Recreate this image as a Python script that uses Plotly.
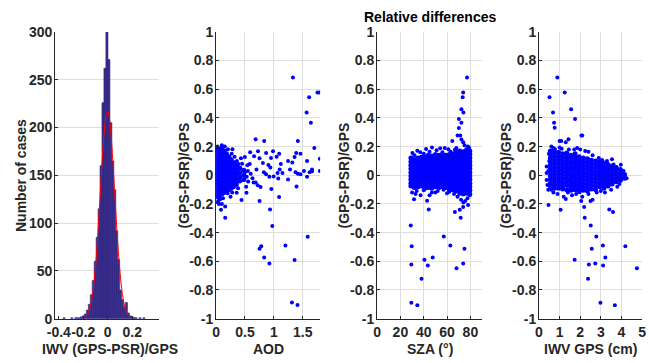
import plotly.graph_objects as go

# ---------------- data ----------------
# Panel 1: histogram of relative IWV differences
hist_centers = [-0.3570, -0.2934, -0.2616, -0.2457, -0.2293, -0.2134, -0.1975, -0.1816, -0.1657,
                -0.1498, -0.1339, -0.1180, -0.1021, -0.0862, -0.0703, -0.0544, -0.0385, -0.0226,
                -0.0067, 0.0092, 0.0251, 0.0410, 0.0569, 0.0728, 0.0887, 0.1046, 0.1205, 0.1364,
                0.1523, 0.1682, 0.1841, 0.2000, 0.2159, 0.2318, 0.2636, 0.2954]
hist_counts = [1, 1, 1, 1, 1, 2, 3, 5, 9,
               15, 25, 40, 60, 85, 115, 160, 226, 262,
               300, 271, 205, 165, 135, 92, 62, 30, 20, 12,
               17, 6, 3, 2, 1, 1, 1, 1]
hist_bin_width = 0.0159

# fitted normal curve
fit_x = [-0.20, -0.18, -0.16, -0.14, -0.12, -0.10, -0.08, -0.06, -0.04, -0.02, -0.01, 0.0,
         0.01, 0.02, 0.04, 0.06, 0.08, 0.10, 0.12, 0.14, 0.16, 0.18, 0.20]
fit_y = [0.8, 2.3, 6.0, 14.1, 29.4, 54.6, 90.6, 133.9, 176.4, 207.2, 215.0, 216.9,
         212.6, 202.4, 168.4, 124.9, 82.6, 48.7, 25.6, 12.0, 5.0, 1.9, 0.6]

# Panel 2: relative difference vs AOD -- dense core (per column) + scattered points
aod_core_x = [0.02, 0.06, 0.10, 0.14, 0.18, 0.22, 0.26, 0.30, 0.35, 0.41, 0.48]
aod_core_y = [
    [0.19, 0.165, 0.14, 0.11, 0.085, 0.06, 0.03, 0.005, -0.02, -0.045, -0.07, -0.1, -0.125, -0.15],
    [0.18, 0.155, 0.125, 0.1, 0.07, 0.045, 0.02, -0.01, -0.035, -0.06, -0.09, -0.115, -0.14, -0.165],
    [0.19, 0.16, 0.135, 0.11, 0.08, 0.055, 0.03, 0.0, -0.025, -0.05, -0.08, -0.105, -0.13],
    [0.17, 0.145, 0.115, 0.09, 0.065, 0.035, 0.01, -0.015, -0.04, -0.07, -0.095, -0.12],
    [0.15, 0.125, 0.1, 0.07, 0.045, 0.02, -0.01, -0.035, -0.06, -0.085, -0.11],
    [0.13, 0.1, 0.075, 0.05, 0.02, -0.005, -0.03, -0.055, -0.08, -0.1],
    [0.11, 0.085, 0.06, 0.03, 0.005, -0.02, -0.045, -0.07, -0.09],
    [0.09, 0.065, 0.04, 0.015, -0.01, -0.035, -0.06, -0.08],
    [0.07, 0.04, 0.015, -0.01, -0.04, -0.065],
    [0.05, 0.02, -0.01, -0.04],
    [0.035, 0.0, -0.03],
]
aod_x = [1.33, 1.61, 1.754, 1.788, 1.567, 1.64, 0.684, 0.832, 1.415, 1.70, 1.795, 1.795,
         0.752, 0.956, 1.09, 0.934, 0.973, 1.585, 0.781, 0.752, 1.20, 0.832, 1.358, 0.922,
         1.312, 1.409, 0.158, 0.085, 0.158, 0.44,
         0.583, 0.657, 0.725, 0.752, 0.81, 0.826, 0.866, 0.905, 0.939, 0.866, 0.922, 0.996,
         1.047, 1.092, 1.12, 1.064, 1.149, 1.075, 1.245, 1.279, 1.319, 1.358, 1.387, 1.46,
         1.375, 1.415, 1.46, 1.392, 1.574, 1.574, 1.618, 1.659, 0.684, 0.77, 0.555, 0.6,
         0.498, 0.458, 0.526, 0.65, 0.498, 0.283, 0.204, 0.385, 0.43, 0.357, 0.28, 0.2,
         0.985, 1.245, 1.52, 1.66, 1.1, 0.7, 0.63, 0.72, 0.54, 0.95, 0.59,
         0.02, 0.05, 0.03, 0.12, 0.1, 0.25, 0.32, 0.36, 0.27, 0.45, 0.52, 0.38, 0.15, 0.1,
         0.55, 0.53]
aod_y = [0.682, 0.545, 0.578, 0.578, 0.438, 0.367, 0.251, 0.24, 0.24, 0.191, 0.115, 0.03,
         -0.18, -0.096, -0.151, -0.238, -0.353, -0.429, -0.495, -0.513, -0.489, -0.573, -0.591, -0.615,
         -0.887, -0.905, -0.296, -0.24, -0.218, -0.173,
         0.078, 0.133, 0.167, 0.118, 0.085, 0.022, 0.156, 0.071, 0.055, 0.007, -0.011, -0.009,
         0.129, 0.151, 0.078, 0.016, 0.016, -0.022, -0.029, 0.04, 0.089, 0.127, 0.156, 0.151,
         0.022, 0.011, 0.007, -0.078, 0.1, -0.011, 0.022, 0.029, -0.051, -0.082, -0.044, 0.011,
         0.022, -0.033, -0.122, -0.05, 0.127, 0.182, 0.182, 0.078, 0.118, -0.122, -0.12, -0.125,
         0.167, 0.1, 0.03, 0.04, 0.04, 0.04, -0.02, -0.07, 0.07, 0.12, 0.16,
         0.2, -0.2, -0.185, -0.16, -0.2, -0.15, 0.13, 0.1, 0.15, 0.08, -0.08, -0.09, 0.2, 0.21,
         0.03, -0.01]

# Panel 3: relative difference vs SZA
sza_core_x = [29, 32, 35, 38, 41, 44, 47, 50, 53, 56, 59, 62, 65, 68, 71, 74, 77, 79.5]
sza_core_y = [
    [0.12, 0.095, 0.07, 0.045, 0.02, -0.005, -0.03, -0.055, -0.075],
    [0.11, 0.085, 0.06, 0.035, 0.01, -0.015, -0.04, -0.065, -0.085],
    [0.12, 0.095, 0.07, 0.045, 0.02, -0.005, -0.03, -0.055, -0.08],
    [0.125, 0.1, 0.075, 0.05, 0.025, 0.0, -0.025, -0.05, -0.075],
    [0.13, 0.105, 0.08, 0.055, 0.03, 0.005, -0.02, -0.045, -0.07, -0.09],
    [0.14, 0.115, 0.09, 0.065, 0.04, 0.015, -0.01, -0.035, -0.06, -0.085],
    [0.135, 0.11, 0.085, 0.06, 0.035, 0.01, -0.015, -0.04, -0.065, -0.09],
    [0.145, 0.12, 0.095, 0.07, 0.045, 0.02, -0.005, -0.03, -0.055, -0.08],
    [0.14, 0.115, 0.09, 0.065, 0.04, 0.015, -0.01, -0.035, -0.06, -0.085],
    [0.145, 0.12, 0.095, 0.07, 0.045, 0.02, -0.005, -0.03, -0.055, -0.08],
    [0.14, 0.115, 0.09, 0.065, 0.04, 0.015, -0.01, -0.035, -0.06, -0.085],
    [0.145, 0.12, 0.095, 0.07, 0.045, 0.02, -0.005, -0.03, -0.055, -0.08, -0.1],
    [0.15, 0.125, 0.1, 0.075, 0.05, 0.025, 0.0, -0.025, -0.05, -0.075, -0.1],
    [0.165, 0.14, 0.115, 0.09, 0.065, 0.04, 0.015, -0.01, -0.035, -0.06, -0.085, -0.11],
    [0.17, 0.145, 0.12, 0.095, 0.07, 0.045, 0.02, -0.005, -0.03, -0.055, -0.08, -0.105, -0.125],
    [0.165, 0.14, 0.115, 0.09, 0.065, 0.04, 0.015, -0.01, -0.035, -0.06, -0.085, -0.11, -0.13],
    [0.175, 0.15, 0.125, 0.1, 0.075, 0.05, 0.025, 0.0, -0.025, -0.05, -0.075, -0.1, -0.125],
    [0.17, 0.145, 0.12, 0.095, 0.07, 0.045, 0.02, -0.005, -0.03, -0.055, -0.08, -0.105, -0.13],
]
sza_x = [77.1, 73.8, 73.4, 72.3, 74, 70.1, 72.3, 70.1, 69, 71.3, 64.5, 72.3, 73.8,
         28.9, 29.7, 29.4, 29.4, 34.5, 38.1, 40.6, 43.5, 47.7, 57.2, 62.8, 68.1, 73.8, 74.9,
         44.3, 66.7, 71.7, 70.9, 73.8, 78,
         31.7, 37.3, 42.9, 30, 34, 40, 47, 52, 57, 62, 75.6, 76.4, 69, 72, 74, 77.5, 79.5,
         33, 45, 50, 60, 66,
         30.3, 34.5, 42, 47.1, 54.1, 61.1, 66.7, 76.5, 37, 51, 58, 32, 40, 45, 56, 63, 68,
         79, 78, 75]
sza_y = [0.682, 0.578, 0.545, 0.46, 0.438, 0.393, 0.367, 0.33, 0.278, 0.278, 0.24, 0.25, 0.23,
         -0.351, -0.495, -0.622, -0.889, -0.907, -0.722, -0.589, -0.629, -0.573, -0.427, -0.489,
         -0.649, -0.615, -0.513,
         -0.238, -0.256, -0.296, -0.24, -0.222, -0.207,
         -0.167, -0.14, -0.178, -0.12, -0.11, -0.105, -0.12, -0.11, -0.1, -0.115, -0.18, -0.12,
         -0.15, -0.17, -0.19, -0.16, -0.14,
         -0.13, -0.14, -0.12, -0.125, -0.13,
         0.156, 0.171, 0.184, 0.193, 0.189, 0.182, 0.178, 0.182, 0.16, 0.175, 0.19, 0.14, 0.15,
         0.165, 0.16, 0.165, 0.19, 0.19, 0.2, 0.21]

# Panel 4: relative difference vs IWV GPS
iwv_core_x = [0.55, 0.75, 0.95, 1.15, 1.35, 1.55, 1.75, 1.95, 2.15, 2.35, 2.55, 2.75, 2.95,
              3.15, 3.35, 3.55, 3.75, 3.95, 4.15]
iwv_core_y = [
    [0.17, 0.145, 0.12, 0.095, 0.07, 0.045, 0.02, -0.005, -0.03, -0.055, -0.075],
    [0.18, 0.155, 0.13, 0.105, 0.08, 0.055, 0.03, 0.005, -0.02, -0.045, -0.07, -0.09],
    [0.16, 0.135, 0.11, 0.085, 0.06, 0.035, 0.01, -0.015, -0.04, -0.065, -0.09],
    [0.15, 0.125, 0.1, 0.075, 0.05, 0.025, 0.0, -0.025, -0.05, -0.075, -0.095],
    [0.155, 0.13, 0.105, 0.08, 0.055, 0.03, 0.005, -0.02, -0.045, -0.07, -0.1],
    [0.14, 0.115, 0.09, 0.065, 0.04, 0.015, -0.01, -0.035, -0.06, -0.085, -0.105],
    [0.15, 0.125, 0.1, 0.075, 0.05, 0.025, 0.0, -0.025, -0.05, -0.075, -0.1],
    [0.13, 0.105, 0.08, 0.055, 0.03, 0.005, -0.02, -0.045, -0.07, -0.095, -0.115],
    [0.12, 0.095, 0.07, 0.045, 0.02, -0.005, -0.03, -0.055, -0.08, -0.105],
    [0.115, 0.09, 0.065, 0.04, 0.015, -0.01, -0.035, -0.06, -0.085, -0.11],
    [0.105, 0.08, 0.055, 0.03, 0.005, -0.02, -0.045, -0.07, -0.095],
    [0.1, 0.075, 0.05, 0.025, 0.0, -0.025, -0.05, -0.075, -0.1],
    [0.095, 0.07, 0.045, 0.02, -0.005, -0.03, -0.055, -0.08],
    [0.085, 0.06, 0.035, 0.01, -0.015, -0.04, -0.065, -0.09],
    [0.075, 0.05, 0.025, 0.0, -0.025, -0.05, -0.075],
    [0.065, 0.04, 0.015, -0.01, -0.035, -0.06],
    [0.055, 0.03, 0.005, -0.02, -0.045],
    [0.04, 0.015, -0.01, -0.035],
    [0.005, -0.02],
]
iwv_x = [0.89, 1.25, 0.51, 1.56, 0.68, 1.75, 0.73, 0.76, 2.06, 2.1, 1.0, 1.08, 1.43, 1.3,
         0.46, 1.05, 2.19, 2.22, 2.51, 2.78, 2.56, 3.1, 3.22, 3.11, 2.73, 2.42, 1.73, 2.38,
         2.98, 3.68, 4.19, 4.75, 3.41, 3.59,
         0.6, 0.7, 1.0, 1.1, 1.45, 1.71, 1.85, 2.0, 2.24, 2.4, 2.6, 2.9, 3.06, 3.54, 3.97,
         3.62, 3.3, 4.25, 4.1, 3.9,
         0.37, 0.37, 0.37, 0.41, 0.45, 0.5, 0.48, 0.45,
         0.7, 0.9, 1.2, 1.4, 1.6, 1.8, 2.05, 2.1, 2.5, 2.6, 2.4, 2.8, 3.0, 3.2, 3.5, 3.8,
         1.3, 0.6]
iwv_y = [0.682, 0.578, 0.545, 0.46, 0.438, 0.393, 0.367, 0.331, 0.278, 0.278, 0.24, 0.24,
         0.251, 0.23,
         -0.207, -0.24, -0.222, -0.296, -0.351, -0.427, -0.513, -0.489, -0.573, -0.629, -0.615,
         -0.622, -0.589, -0.722, -0.889, -0.907, -0.495, -0.649, -0.238, -0.256,
         0.2, 0.19, 0.193, 0.185, 0.18, 0.18, 0.19, 0.18, 0.17, 0.165, 0.14, 0.12, 0.107, 0.111,
         0.073, 0.076, 0.1, -0.02, 0.03, -0.06,
         0.062, 0.016, -0.033, -0.067, 0.03, 0.1, 0.15, -0.1,
         -0.12, -0.13, -0.15, -0.12, -0.14, -0.13, -0.18, -0.15, -0.18, -0.17, -0.13, -0.12,
         -0.11, -0.12, -0.1, -0.08, -0.165, -0.1]

# axis tick labels
hist_xticks = [-0.4, -0.2, 0, 0.2]
hist_xticktext = ["-0.4", "-0.2", "0", "0.2"]
hist_yticks = [0, 50, 100, 150, 200, 250, 300]
rel_ticks = [-1, -0.8, -0.6, -0.4, -0.2, 0, 0.2, 0.4, 0.6, 0.8, 1]
rel_ticktext = ["-1", "-0.8", "-0.6", "-0.4", "-0.2", "0", "0.2", "0.4", "0.6", "0.8", "1"]
aod_ticks = [0, 0.5, 1, 1.5]
aod_ticktext = ["0", "0.5", "1", "1.5"]
sza_ticks = [0, 20, 40, 60, 80]
iwv_ticks = [0, 1, 2, 3, 4, 5]

# ---------------- figure ----------------
W, H = 649, 363
FONT = "Liberation Sans, Arial, Helvetica, sans-serif"
TXT = "#262626"
BLUE = "#0000FF"
NAVY = "#352A87"


def expand(cols, ys):
    xs, yy = [], []
    for c, col in zip(cols, ys):
        for v in col:
            xs.append(c)
            yy.append(v)
    return xs, yy


fig = go.Figure()
fig.add_trace(go.Bar(x=hist_centers, y=hist_counts, width=hist_bin_width * 1.1,
                     marker=dict(color=NAVY, line=dict(width=0.6, color=NAVY)),
                     xaxis="x", yaxis="y", showlegend=False))
fig.add_trace(go.Scatter(x=fit_x, y=fit_y, mode="lines",
                         line=dict(color="#FF0000", width=1, shape="spline"),
                         xaxis="x", yaxis="y", showlegend=False))

panels = [
    (aod_core_x, aod_core_y, aod_x, aod_y, "x2", "y2"),
    (sza_core_x, sza_core_y, sza_x, sza_y, "x3", "y3"),
    (iwv_core_x, iwv_core_y, iwv_x, iwv_y, "x4", "y4"),
]
for cx, cy, sx, sy, xa, ya in panels:
    ex, ey = expand(cx, cy)
    fig.add_trace(go.Scatter(x=ex, y=ey, mode="markers",
                             marker=dict(color=BLUE, size=5, line=dict(width=0)),
                             xaxis=xa, yaxis=ya, showlegend=False))
    fig.add_trace(go.Scatter(x=sx, y=sy, mode="markers",
                             marker=dict(color=BLUE, size=4, line=dict(width=0)),
                             xaxis=xa, yaxis=ya, showlegend=False))

tickfont = dict(family=FONT, size=14, color=TXT, weight="bold")
common = dict(showline=True, linecolor=TXT, linewidth=1, ticks="inside", ticklen=3,
              tickcolor=TXT, tickfont=tickfont, zeroline=False, gridcolor="#dedede",
              gridwidth=1, mirror=False, tickangle=0)
xextra = dict(ticklabelstandoff=1, ticklabeloverflow="allow")
yextra = dict(ticklabelstandoff=-1)

def px_x(p):
    return p / W

def px_y(p):
    return 1 - p / H

ydom = [px_y(325), px_y(25)]
xdoms = [[px_x(48), px_x(154)], [px_x(212), px_x(318)], [px_x(376), px_x(483)],
         [px_x(541), px_x(646)]]

fig.update_layout(
    width=W, height=H, margin=dict(l=0, r=0, t=0, b=0),
    paper_bgcolor="white", plot_bgcolor="white", showlegend=False,
    xaxis=dict(domain=xdoms[0], anchor="y", range=[-0.43, 0.42], tickvals=hist_xticks,
               ticktext=hist_xticktext, showgrid=False, **common, **xextra),
    yaxis=dict(domain=ydom, anchor="x", range=[0, 300], tickvals=hist_yticks, showgrid=True,
               **common, **yextra),
    xaxis2=dict(domain=xdoms[1], anchor="y2", range=[0, 1.8], tickvals=aod_ticks,
                ticktext=aod_ticktext, showgrid=True, **common, **xextra),
    yaxis2=dict(domain=ydom, anchor="x2", range=[-1, 1], tickvals=rel_ticks,
                ticktext=rel_ticktext, showgrid=True, **common, **yextra),
    xaxis3=dict(domain=xdoms[2], anchor="y3", range=[0, 90], tickvals=sza_ticks,
                showgrid=True, **common, **xextra),
    yaxis3=dict(domain=ydom, anchor="x3", range=[-1, 1], tickvals=rel_ticks,
                ticktext=rel_ticktext, showgrid=True, **common, **yextra),
    xaxis4=dict(domain=xdoms[3], anchor="y4", range=[0, 5], tickvals=iwv_ticks,
                showgrid=True, **common, **xextra),
    yaxis4=dict(domain=ydom, anchor="x4", range=[-1, 1], tickvals=rel_ticks,
                ticktext=rel_ticktext, showgrid=True, **common, **yextra),
)

lab = dict(family=FONT, size=14, color=TXT, weight="bold")
ann = []
# x-axis titles
for text, cxp in [("IWV (GPS-PSR)/GPS", 104), ("AOD", 265), ("SZA (°)", 429.5),
                  ("IWV GPS (cm)", 593.5)]:
    ann.append(dict(text=text, x=px_x(cxp), y=px_y(357), xref="paper", yref="paper",
                    xanchor="center", yanchor="middle", showarrow=False, font=lab))
# y-axis titles
for text, cxp in [("Number of cases", 14), ("(GPS-PSR)/GPS", 179.5),
                  ("(GPS-PSR)/GPS", 342.5), ("(GPS-PSR)/GPS", 507.5)]:
    ann.append(dict(text=text, x=px_x(cxp), y=px_y(175), xref="paper", yref="paper",
                    xanchor="center", yanchor="middle", showarrow=False, textangle=-90,
                    font=lab))
# title above third panel
ann.append(dict(text="Relative differences", x=px_x(429.5), y=px_y(9), xref="paper",
                yref="paper", xanchor="center", yanchor="middle", showarrow=False,
                font=dict(family=FONT, size=14, color="#000000", weight="bold")))
fig.update_layout(annotations=ann)

fig.write_html("out.html")
